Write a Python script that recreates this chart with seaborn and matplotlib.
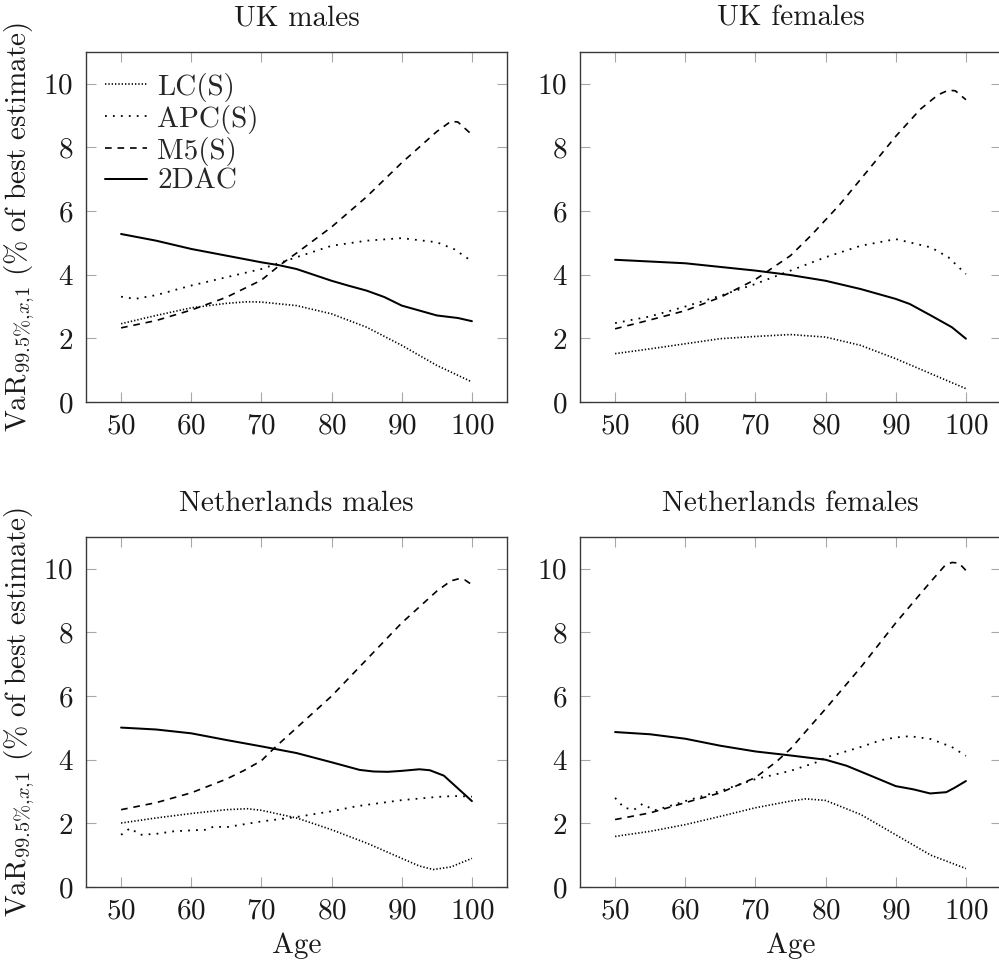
import numpy as np
import pandas as pd
import matplotlib
matplotlib.use("Agg")
import matplotlib.pyplot as plt
import seaborn as sns

sns.set_style("ticks")
plt.rcParams["font.family"] = ["cmr10", "DejaVu Serif"]
plt.rcParams["mathtext.fontset"] = "cm"
plt.rcParams["axes.formatter.use_mathtext"] = True

# ---------------- data ----------------
titles = ["UK males", "UK females", "Netherlands males", "Netherlands females"]
series_names = ["LC(S)", "APC(S)", "M5(S)", "2DAC"]
x_ticks = [50, 60, 70, 80, 90, 100]
y_ticks = [0, 2, 4, 6, 8, 10]

# UK males
ukm_lc_age = [50, 55, 60, 65, 68, 70, 75, 80, 85, 90, 95, 100]
ukm_lc_val = [2.46, 2.72, 2.96, 3.10, 3.15, 3.14, 3.03, 2.77, 2.35, 1.78, 1.15, 0.63]
ukm_apc_age = [50, 52, 55, 60, 65, 70, 75, 80, 85, 90, 95, 97.5, 100]
ukm_apc_val = [3.31, 3.24, 3.36, 3.66, 3.92, 4.18, 4.55, 4.91, 5.07, 5.15, 5.02, 4.80, 4.42]
ukm_m5_age = [50, 55, 60, 65, 70, 72.5, 75, 80, 85, 90, 95, 97, 98, 100]
ukm_m5_val = [2.33, 2.56, 2.89, 3.29, 3.83, 4.28, 4.68, 5.50, 6.45, 7.52, 8.50, 8.82, 8.80, 8.40]
ukm_2dac_age = [50, 55, 60, 65, 70, 72.5, 75, 80, 82.5, 85, 87.5, 90, 95, 98, 100]
ukm_2dac_val = [5.28, 5.07, 4.81, 4.60, 4.39, 4.30, 4.18, 3.81, 3.65, 3.50, 3.30, 3.03, 2.72, 2.64, 2.54]

# UK females
ukf_lc_age = [50, 55, 60, 65, 70, 75, 80, 85, 90, 95, 100]
ukf_lc_val = [1.52, 1.67, 1.83, 1.99, 2.06, 2.12, 2.04, 1.78, 1.36, 0.89, 0.42]
ukf_apc_age = [50, 55, 60, 65, 70, 75, 80, 85, 90, 95, 97.5, 100]
ukf_apc_val = [2.48, 2.69, 3.00, 3.34, 3.71, 4.13, 4.55, 4.91, 5.12, 4.86, 4.55, 4.02]
ukf_m5_age = [50, 55, 60, 65, 70, 75, 78, 82, 86, 90, 93.5, 96, 97.5, 98.5, 100]
ukf_m5_val = [2.30, 2.58, 2.87, 3.29, 3.85, 4.60, 5.25, 6.20, 7.27, 8.35, 9.20, 9.65, 9.80, 9.78, 9.50]
ukf_2dac_age = [50, 60, 70, 75, 80, 85, 90, 92, 95, 98, 100]
ukf_2dac_val = [4.47, 4.36, 4.13, 3.99, 3.81, 3.55, 3.24, 3.08, 2.72, 2.35, 1.99]

# Netherlands males
nlm_lc_age = [50, 55, 60, 65, 68, 70, 75, 80, 85, 90, 92.5, 94.5, 97, 100]
nlm_lc_val = [2.01, 2.17, 2.31, 2.43, 2.46, 2.41, 2.17, 1.80, 1.38, 0.90, 0.66, 0.55, 0.63, 0.90]
nlm_apc_age = [50, 51.3, 52.7, 55, 57.5, 60, 62.2, 63.2, 65, 70, 75, 80, 83.6, 90, 95, 97.5, 100]
nlm_apc_val = [1.64, 1.85, 1.64, 1.67, 1.75, 1.78, 1.80, 1.90, 1.88, 2.06, 2.20, 2.38, 2.54, 2.73, 2.83, 2.86, 2.84]
nlm_m5_age = [50, 55, 60, 65, 67.5, 70, 72, 75, 80, 85, 90, 95, 97, 98, 99, 100]
nlm_m5_val = [2.43, 2.65, 2.96, 3.39, 3.66, 3.97, 4.40, 5.00, 6.00, 7.15, 8.30, 9.30, 9.62, 9.68, 9.65, 9.50]
nlm_2dac_age = [50, 55, 60, 65, 70, 75, 80, 84, 86, 88, 90, 92.5, 94, 96, 98, 100]
nlm_2dac_val = [5.01, 4.95, 4.83, 4.62, 4.42, 4.21, 3.92, 3.68, 3.63, 3.62, 3.65, 3.70, 3.67, 3.50, 3.10, 2.70]

# Netherlands females
nlf_lc_age = [50, 55, 60, 65, 70, 75, 77.2, 80, 85, 90, 95, 100]
nlf_lc_val = [1.59, 1.75, 1.96, 2.22, 2.49, 2.70, 2.77, 2.72, 2.28, 1.64, 1.00, 0.58]
nlf_apc_age = [50, 51.3, 52.7, 53.9, 55.6, 57.7, 60, 65, 70, 75, 78.7, 80, 85, 88, 90, 92, 95, 98, 100]
nlf_apc_val = [2.80, 2.49, 2.43, 2.61, 2.41, 2.54, 2.70, 3.02, 3.39, 3.65, 3.92, 4.07, 4.40, 4.62, 4.70, 4.74, 4.65, 4.40, 4.12]
nlf_m5_age = [50, 55, 60, 65, 70, 73, 75, 80, 85, 90, 95, 97, 98, 99, 100]
nlf_m5_val = [2.12, 2.33, 2.65, 2.96, 3.44, 3.94, 4.34, 5.60, 6.90, 8.30, 9.60, 10.10, 10.20, 10.18, 9.95]
nlf_2dac_age = [50, 55, 60, 65, 70, 74.4, 80, 83, 86.3, 90, 92.5, 94.9, 97.2, 98.4, 100]
nlf_2dac_val = [4.87, 4.80, 4.66, 4.44, 4.26, 4.15, 4.00, 3.81, 3.51, 3.17, 3.07, 2.94, 2.98, 3.12, 3.33]

panel_data = [
    [(ukm_lc_age, ukm_lc_val), (ukm_apc_age, ukm_apc_val), (ukm_m5_age, ukm_m5_val), (ukm_2dac_age, ukm_2dac_val)],
    [(ukf_lc_age, ukf_lc_val), (ukf_apc_age, ukf_apc_val), (ukf_m5_age, ukf_m5_val), (ukf_2dac_age, ukf_2dac_val)],
    [(nlm_lc_age, nlm_lc_val), (nlm_apc_age, nlm_apc_val), (nlm_m5_age, nlm_m5_val), (nlm_2dac_age, nlm_2dac_val)],
    [(nlf_lc_age, nlf_lc_val), (nlf_apc_age, nlf_apc_val), (nlf_m5_age, nlf_m5_val), (nlf_2dac_age, nlf_2dac_val)],
]

# ---------------- styling ----------------
styles = [
    dict(linestyle=(0, (0.8, 1.2)), linewidth=1.2),
    dict(linestyle=(0, (1.0, 3.4)), linewidth=1.3),
    dict(linestyle=(0, (4.0, 3.5)), linewidth=1.2),
    dict(linestyle="-", linewidth=1.45),
]

FS = 21
TXT = "#1a1a1a"
W, H = 999, 960
fig = plt.figure(figsize=(W / 100, H / 100), dpi=100)

aw, ah = 421 / W, 350 / H
positions = [
    (86 / W, 1 - 402 / H), (580 / W, 1 - 402 / H),
    (86 / W, 1 - 887 / H), (580 / W, 1 - 887 / H),
]
ylabel = r"$\mathrm{VaR}_{99.5\%{,}x{,}1}\ \mathrm{(\%\ of\ best\ estimate)}$"

for i, (title, data, (px, py)) in enumerate(zip(titles, panel_data, positions)):
    ax = fig.add_axes([px, py, aw, ah])
    for name, (ages, vals), st in zip(series_names, data, styles):
        df = pd.DataFrame({"Age": ages, "VaR": vals})
        sns.lineplot(data=df, x="Age", y="VaR", ax=ax, color="black",
                     label=name if i == 0 else None, legend=False, **st)
    ax.set_xlim(45, 105)
    ax.set_ylim(0, 11)
    ax.set_xticks(x_ticks)
    ax.set_yticks(y_ticks)
    ax.tick_params(direction="in", length=7.5, width=0.8, color="#a8a8a8",
                   top=True, right=True, labelsize=FS, labelcolor=TXT)
    ax.tick_params(axis="x", pad=8)
    ax.tick_params(axis="y", pad=9)
    for sp in ax.spines.values():
        sp.set_color("#3a3a3a")
        sp.set_linewidth(1.0)
        sp.set_visible(True)
    ax.set_title(title, fontsize=FS, pad=19, color=TXT)
    ax.set_xlabel("Age" if i >= 2 else "", fontsize=FS, color=TXT, labelpad=6)
    if i % 2 == 0:
        ax.set_ylabel(ylabel, fontsize=FS, color=TXT, labelpad=5)
    else:
        ax.set_ylabel("")
    if i == 0:
        ax.legend(loc="upper left", frameon=False, fontsize=FS,
                  handlelength=1.45, handletextpad=0.35, labelspacing=0.1,
                  borderaxespad=0.25, bbox_to_anchor=(0.0, 0.995))

fig.savefig("out.png", dpi=100)
